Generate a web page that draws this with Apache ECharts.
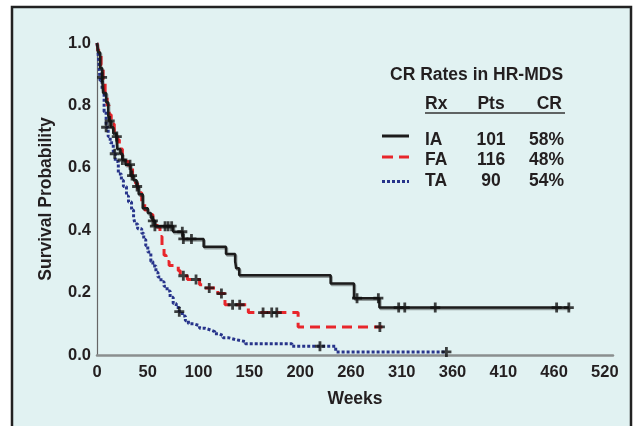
<!DOCTYPE html>
<html>
<head>
<meta charset="utf-8">
<script src="https://cdn.jsdelivr.net/npm/echarts@6/dist/echarts.min.js"></script>
<style>
  html, body { margin: 0; padding: 0; background: #fff; }
  #chart { width: 634px; height: 426px; }
</style>
</head>
<body>
<div id="chart"></div>
<script>
// x positions are in axis units (one tick = 50), labels below are as printed
const xTickLabels = ["0", "50", "100", "150", "200", "260", "310", "360", "410", "460", "520"]

// IA - drop points of the Kaplan-Meier curve
const iaWeeks = [0, 1, 3, 5, 6, 9, 11, 12, 14, 16, 19, 20, 23, 25, 28, 33, 36, 39, 41, 45, 50, 53, 55, 57, 75, 84.5, 105, 127, 136, 137, 140, 230, 253, 278, 465]
const iaSurv = [1.0, 0.97, 0.92, 0.89, 0.84, 0.81, 0.77, 0.75, 0.73, 0.71, 0.70, 0.66, 0.645, 0.625, 0.61, 0.575, 0.56, 0.54, 0.515, 0.47, 0.455, 0.44, 0.43, 0.413, 0.395, 0.372, 0.347, 0.324, 0.30, 0.278, 0.256, 0.229, 0.182, 0.152, 0.152]
const iaCensor = [5, 12.5, 19.5, 25, 32.5, 34.5, 39.5, 55, 57, 67, 70, 73.5, 84, 85, 93, 256, 277, 297, 303, 333, 452.5, 464.5]

// FA
const faWeeks = [0, 1, 4, 6, 8, 10, 12, 14, 17, 20, 22, 25, 28, 31, 35, 38, 40, 44, 47, 52, 55, 59, 62, 64, 66, 68, 71, 80, 82, 89, 101, 106, 119, 126, 149, 198, 281]
const faSurv = [1.0, 0.975, 0.93, 0.88, 0.84, 0.80, 0.77, 0.74, 0.71, 0.69, 0.66, 0.64, 0.62, 0.60, 0.57, 0.55, 0.52, 0.49, 0.465, 0.45, 0.43, 0.41, 0.38, 0.35, 0.32, 0.30, 0.287, 0.27, 0.254, 0.242, 0.225, 0.215, 0.197, 0.161, 0.136, 0.09, 0.09]
const faCensor = [85, 97.5, 110.5, 122.5, 133.5, 140.5, 163.5, 172, 177, 278.5]

// TA
const taWeeks = [0, 1, 2, 3, 5, 7, 9, 11, 13, 16, 18, 21, 24, 26, 29, 31, 34, 36, 37.5, 40, 44, 46, 48, 50, 53, 55, 58, 60, 63, 66, 69, 72, 75, 78, 81, 84, 87, 90, 95, 101, 106, 111, 116, 120, 124, 130, 137, 146, 192, 235, 344]
const taSurv = [1.0, 0.97, 0.93, 0.88, 0.85, 0.78, 0.73, 0.70, 0.68, 0.645, 0.62, 0.58, 0.56, 0.54, 0.51, 0.49, 0.465, 0.44, 0.42, 0.405, 0.39, 0.37, 0.35, 0.33, 0.30, 0.285, 0.265, 0.25, 0.235, 0.22, 0.205, 0.185, 0.165, 0.152, 0.139, 0.125, 0.11, 0.10, 0.094, 0.086, 0.081, 0.075, 0.068, 0.062, 0.055, 0.049, 0.043, 0.036, 0.028, 0.01, 0.01]
const taCensor = [9, 17.5, 81, 219.5, 344]

// legend table
const arms = ["IA", "FA", "TA"]
const pts = ["101", "116", "90"]
const crRates = ["58%", "48%", "54%"]

const colors = { IA: "#1c1c1c", FA: "#e8262b", TA: "#27348b" }
const textColor = "#231f20"
const font = "Liberation Sans, Arial, sans-serif"
const plusPath = "path://M3.6,0H6.4V3.6H10V6.4H6.4V10H3.6V6.4H0V3.6H3.6Z"

function pairs(xs, ys) {
  return xs.map((x, i) => [x, ys[i]])
}

// survival value of the step curve at time t
function survAt(xs, ys, t) {
  let s = ys[0]
  for (let i = 0; i < xs.length; i++) {
    if (xs[i] <= t) s = ys[i]
  }
  return s
}

function censorPoints(xs, ys, cs) {
  return cs.map((t) => [t, survAt(xs, ys, t)])
}

const chart = echarts.init(document.getElementById("chart"))

const boldFont = "bold 17.5px " + font

// frame, legend title and table
const legendGraphics = [
  { type: "rect", shape: { x: 12, y: 7, width: 619, height: 430 }, style: { fill: "#e1f2f2", stroke: "#222", lineWidth: 2.5 }, z: -10 },
  { type: "text", x: 390, y: 75.5, style: { text: "CR Rates in HR-MDS", font: boldFont, fill: textColor, textVerticalAlign: "middle" } },
  { type: "text", x: 425, y: 104.5, style: { text: "Rx", font: boldFont, fill: textColor, textVerticalAlign: "middle" } },
  { type: "text", x: 491, y: 104.5, style: { text: "Pts", font: boldFont, fill: textColor, textAlign: "center", textVerticalAlign: "middle" } },
  { type: "text", x: 562, y: 104.5, style: { text: "CR", font: boldFont, fill: textColor, textAlign: "right", textVerticalAlign: "middle" } },
  { type: "line", shape: { x1: 425, y1: 113, x2: 565, y2: 113 }, style: { stroke: "#333", lineWidth: 1.5 } },
]
const rowY = [140, 160.5, 181]
const sampleY = [136, 157, 181.5]
const sampleDash = { IA: null, FA: [11, 6], TA: [3, 2] }
arms.forEach((a, i) => {
  const y = rowY[i]
  legendGraphics.push(
    { type: "line", shape: { x1: 382, y1: sampleY[i], x2: 409, y2: sampleY[i] }, style: { stroke: colors[a], lineWidth: 3, lineDash: sampleDash[a] } },
    { type: "text", x: 425, y: y, style: { text: a, font: boldFont, fill: textColor, textVerticalAlign: "middle" } },
    { type: "text", x: 491, y: y, style: { text: pts[i], font: boldFont, fill: textColor, textAlign: "center", textVerticalAlign: "middle" } },
    { type: "text", x: 564, y: y, style: { text: crRates[i], font: boldFont, fill: textColor, textAlign: "right", textVerticalAlign: "middle" } }
  )
})

const option = {
  backgroundColor: "#ffffff",
  animation: false,
  grid: { left: 97, right: 21, top: 43, bottom: 71 },
  xAxis: {
    type: "value",
    min: 0,
    max: 508,
    interval: 50,
    name: "Weeks",
    nameLocation: "middle",
    nameGap: 35,
    nameTextStyle: { fontFamily: font, fontWeight: "bold", fontSize: 17.5, color: textColor },
    axisLine: { lineStyle: { color: "#8a8f8f", width: 2.5 } },
    axisTick: { show: false },
    splitLine: { show: false },
    axisLabel: {
      margin: 9,
      fontFamily: font,
      fontWeight: "bold",
      fontSize: 16.5,
      color: textColor,
      showMaxLabel: false,
      formatter: (v) => xTickLabels[Math.round(v / 50)] ?? "",
    },
  },
  yAxis: {
    type: "value",
    min: 0,
    max: 1,
    interval: 0.2,
    name: "Survival Probability",
    nameLocation: "middle",
    nameGap: 42,
    nameTextStyle: { fontFamily: font, fontWeight: "bold", fontSize: 17.5, color: textColor },
    axisLine: { show: true, lineStyle: { color: "#666", width: 1.2 } },
    axisTick: { show: false },
    splitLine: { show: false },
    axisLabel: {
      margin: 6,
      fontFamily: font,
      fontWeight: "bold",
      fontSize: 16.5,
      color: textColor,
      formatter: (v) => v.toFixed(1),
    },
  },
  graphic: legendGraphics,
  series: [
    {
      name: "TA",
      type: "line",
      step: "end",
      symbol: "none",
      data: pairs(taWeeks, taSurv),
      lineStyle: { color: colors.TA, width: 3, type: [3, 2], cap: "butt" },
      z: 2,
    },
    {
      name: "FA",
      type: "line",
      step: "end",
      symbol: "none",
      data: pairs(faWeeks, faSurv),
      lineStyle: { color: colors.FA, width: 3, type: [10, 6], cap: "butt" },
      z: 3,
    },
    {
      name: "IA",
      type: "line",
      step: "end",
      symbol: "none",
      data: pairs(iaWeeks, iaSurv),
      lineStyle: { color: colors.IA, width: 2.5, shadowColor: "rgba(0,0,0,0.35)", shadowOffsetX: 1, shadowOffsetY: 1.5 },
      z: 4,
    },
    {
      name: "censored",
      type: "scatter",
      symbol: plusPath,
      symbolSize: 10,
      itemStyle: { color: "#111" },
      data: [
        ...censorPoints(iaWeeks, iaSurv, iaCensor),
        ...censorPoints(faWeeks, faSurv, faCensor),
        ...censorPoints(taWeeks, taSurv, taCensor),
      ],
      z: 5,
    },
  ],
}

chart.setOption(option)
</script>
</body>
</html>
